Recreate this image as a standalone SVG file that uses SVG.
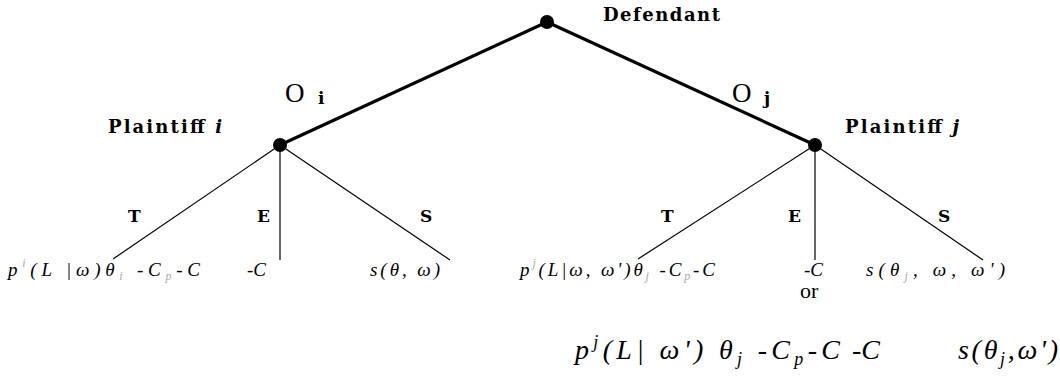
<svg xmlns="http://www.w3.org/2000/svg" width="1060" height="381" viewBox="0 0 1060 381">
<style>
.bg{fill:#fff}
.main{stroke:#000;stroke-width:3.2;stroke-linecap:round}
.br{stroke:#000;stroke-width:1.2}
.dot{fill:#000}
.bold{font-family:"DejaVu Serif",serif;font-weight:bold;font-size:18px;fill:#000}
.lbl{font-family:"DejaVu Serif",serif;font-weight:bold;font-size:17px;fill:#000}
.o{font-family:"Liberation Serif",serif;font-size:27px;fill:#000}
.leaf{font-family:"Liberation Serif",serif;font-style:italic;font-size:19px;fill:#000}
.big{font-family:"Liberation Serif",serif;font-style:italic;font-size:28px;fill:#000}
.or{font-family:"Liberation Serif",serif;font-size:22px;fill:#000}
.g{fill:#aaa}
</style>
<rect class="bg" width="1060" height="381"/>
<g id="connectors">
<line class="main" x1="547" y1="22" x2="280" y2="145"/>
<line class="main" x1="547" y1="22" x2="815" y2="145"/>
<line class="br" x1="280" y1="145" x2="113" y2="259"/>
<line class="br" x1="280" y1="145" x2="280" y2="260"/>
<line class="br" x1="280" y1="145" x2="450" y2="260"/>
<line class="br" x1="815" y1="145" x2="638" y2="259"/>
<line class="br" x1="815" y1="145" x2="815" y2="260"/>
<line class="br" x1="815" y1="145" x2="983" y2="260"/>
<text class="o" x="285" y="102">O</text><text class="lbl" x="318" y="104">i</text>
<text class="o" x="732" y="102">O</text><text class="lbl" x="764" y="104">j</text>
<text class="lbl" x="128" y="222">T</text>
<text class="lbl" x="257" y="222">E</text>
<text class="lbl" x="420" y="222">S</text>
<text class="lbl" x="661" y="222">T</text>
<text class="lbl" x="788" y="222">E</text>
<text class="lbl" x="938" y="222">S</text>
</g>
<g id="defendant">
<circle class="dot" cx="547" cy="22" r="7"/>
<text class="bold" x="603" y="21" textLength="117" lengthAdjust="spacing">Defendant</text>
</g>
<g id="plaintiff-i">
<circle class="dot" cx="280" cy="145" r="7"/>
<text class="bold" x="108" y="133" textLength="114" lengthAdjust="spacing">Plaintiff <tspan font-style="italic">i</tspan></text>
</g>
<g id="plaintiff-j">
<circle class="dot" cx="815" cy="145" r="7"/>
<text class="bold" x="845" y="133" textLength="114" lengthAdjust="spacing">Plaintiff <tspan font-style="italic">j</tspan></text>
</g>
<g id="leaf-it">
<text class="leaf" x="8" y="276" textLength="192" lengthAdjust="spacing">p<tspan class="g" font-size="12" dy="-9">i</tspan><tspan dy="9">(L |ω)θ</tspan><tspan class="g" font-size="12" dy="4">i</tspan><tspan dy="-4"> -C</tspan><tspan class="g" font-size="12" dy="4">p</tspan><tspan dy="-4">-C</tspan></text>
</g>
<g id="leaf-ie">
<text class="leaf" x="247" y="276">-C</text>
</g>
<g id="leaf-is">
<text class="leaf" x="370" y="276" textLength="70" lengthAdjust="spacing">s(θ, ω)</text>
</g>
<g id="leaf-jt">
<text class="leaf" x="520" y="276" textLength="195" lengthAdjust="spacing">p<tspan class="g" font-size="12" dy="-9">j</tspan><tspan dy="9">(L|ω, ω')θ</tspan><tspan class="g" font-size="12" dy="4">j</tspan><tspan dy="-4"> -C</tspan><tspan class="g" font-size="12" dy="4">p</tspan><tspan dy="-4">-C</tspan></text>
</g>
<g id="leaf-je">
<text class="leaf" x="804" y="276">-C</text>
<text class="or" x="800" y="298">or</text>
<text class="big" x="852" y="359">-C</text>
</g>
<g id="leaf-js">
<text class="leaf" x="866" y="276" textLength="139" lengthAdjust="spacing">s(θ<tspan class="g" font-size="12" dy="4">j</tspan><tspan dy="-4">, ω, ω')</tspan></text>
<text class="big" x="958" y="359" textLength="100" lengthAdjust="spacing">s(θ<tspan font-size="18" dy="6">j</tspan><tspan dy="-6">,ω')</tspan></text>
</g>
<g id="leaf-jt2">
<text class="big" x="575" y="359" textLength="265" lengthAdjust="spacing">p<tspan font-size="18" dy="-11">j</tspan><tspan dy="11">(L| ω') θ</tspan><tspan font-size="18" dy="6">j</tspan><tspan dy="-6"> -C</tspan><tspan font-size="18" dy="6">p</tspan><tspan dy="-6">-C</tspan></text>
</g>
</svg>
